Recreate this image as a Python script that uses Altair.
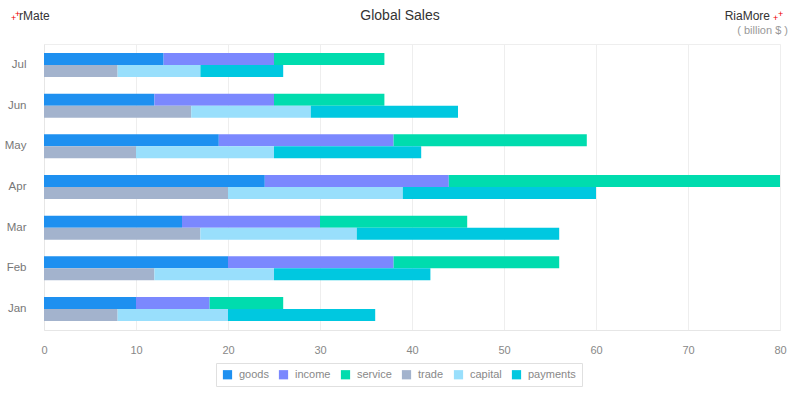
import altair as alt
import pandas as pd

months = ["Jan", "Feb", "Mar", "Apr", "May", "Jun", "Jul"]
goods = [10, 20, 15, 24, 19, 12, 13]
income = [8, 18, 15, 20, 19, 13, 12]
service = [8, 18, 16, 36, 21, 12, 12]
trade = [8, 12, 17, 20, 10, 16, 8]
capital = [12, 13, 17, 19, 15, 13, 9]
payments = [16, 17, 22, 21, 16, 16, 9]
x_ticks = [0, 10, 20, 30, 40, 50, 60, 70, 80]

series_names = ["goods", "income", "service", "trade", "capital", "payments"]
series_vals = [goods, income, service, trade, capital, payments]
series_group = ["a", "a", "a", "b", "b", "b"]
colors = ["#1e90f0", "#7b88fe", "#00dcae", "#a3b3cd", "#99dffc", "#00c8e0"]

rows = []
for si, (name, vals, grp) in enumerate(zip(series_names, series_vals, series_group)):
    for m, v in zip(months, vals):
        rows.append({"month": m, "series": name, "group": grp, "order": si, "value": v})
df = pd.DataFrame(rows)

month_order = list(reversed(months))

bars = alt.Chart(df).transform_stack(
    stack="value", groupby=["month", "group"], as_=["x0", "x1"],
    sort=[alt.SortField("order", order="ascending")]
).mark_bar(size=12).encode(
    y=alt.Y("month:N", sort=month_order,
            scale=alt.Scale(paddingInner=0.41, paddingOuter=0.22),
            axis=alt.Axis(title=None, ticks=False, labelPadding=18, labelFontSize=11.5,
                          labelColor="#777", labelFont="Arial", domainColor="#e6e6e6",
                          grid=False)),
    yOffset=alt.YOffset("group:N", scale=alt.Scale(paddingInner=0, paddingOuter=0)),
    x=alt.X("x0:Q", scale=alt.Scale(domain=[0, 80], nice=False),
            axis=alt.Axis(title=None, values=x_ticks, labelOverlap=False, labelFlush=False,
                          ticks=False, labelPadding=14, labelFontSize=11, labelColor="#888",
                          labelFont="Arial", domainColor="#e6e6e6", gridColor="#eeeeee")),
    x2="x1:Q",
    color=alt.Color("series:N", sort=series_names,
                    scale=alt.Scale(domain=series_names, range=colors),
                    legend=alt.Legend(title=None, orient="none", direction="horizontal",
                                      legendX=172, legendY=319, symbolType="square",
                                      symbolSize=85, symbolStrokeWidth=0, labelFontSize=11,
                                      labelColor="#888", labelFont="Arial", columns=6,
                                      columnPadding=9, strokeColor="#e0e0e0", padding=6,
                                      labelOffset=6, fillColor="white")),
)

def txt(text, x, y, color, size, align="left", font="Arial"):
    return alt.Chart(pd.DataFrame({"t": [text]})).mark_text(
        align=align, baseline="middle", fontSize=size, color=color, font=font
    ).encode(text="t:N", x=alt.value(x), y=alt.value(y))

title = txt("Global Sales", 356, -28, "#333", 14, align="center")
left_plus = txt("+", -33, -26, "#e00", 9)
left_plus2 = txt("+", -29, -30, "#e00", 9)
left_name = txt("rMate", -25, -28, "#333", 12)
right_name = txt("RiaMore", 726, -28, "#333", 12, align="right")
right_plus = txt("+", 729, -26, "#e00", 9)
right_plus2 = txt("+", 734, -30, "#e00", 9)
unit = txt("( billion $ )", 744, -13, "#999", 11, align="right")

chart = alt.layer(bars, title, left_plus, left_plus2, left_name, right_name,
                  right_plus, right_plus2, unit).properties(
    width=736, height=286,
    autosize=alt.AutoSizeParams(type="none"),
    padding={"left": 44, "top": 44, "right": 20, "bottom": 70},
).configure_view(stroke="#eeeeee")

chart.save("out.html", embed_options={"renderer": "svg", "actions": False})
